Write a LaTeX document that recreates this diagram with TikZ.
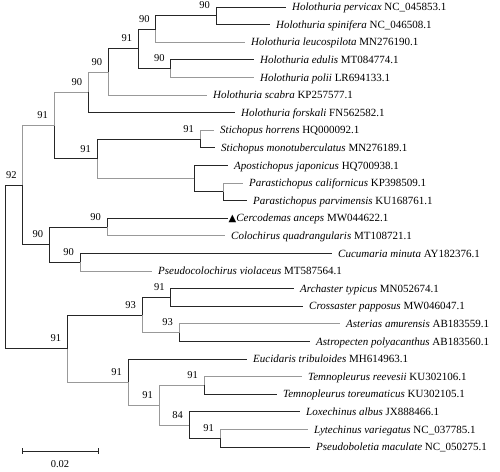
\documentclass[tikz,border=0pt]{standalone}
\usepackage{fontspec}
\setmainfont{Liberation Serif}
\newfontfamily\symfont{DejaVu Sans}
\begin{document}
\begin{tikzpicture}[x=1pt,y=-1pt,
  br/.style={line width=0.8pt, draw=black!85},
  gb/.style={line width=0.8pt, draw=black!40},
  leaf/.style={anchor=west, inner xsep=0pt, inner ysep=0pt, xshift=6pt, text height=7.3pt, text depth=0pt, font=\fontsize{11}{12}\selectfont},
  bs/.style={anchor=south east, inner sep=0pt, font=\fontsize{10.5}{12}\selectfont}]
\useasboundingbox (0,0) rectangle (500,471);
% leaf tips
\coordinate (t1) at (286,7.0);
\coordinate (t2) at (270,24.6);
\coordinate (t3) at (245,42.2);
\coordinate (t4) at (254,59.8);
\coordinate (t5) at (254,77.4);
\coordinate (t6) at (207,95.0);
\coordinate (t7) at (235,112.6);
\coordinate (t8) at (214,130.2);
\coordinate (t9) at (215,147.8);
\coordinate (t10) at (228,165.4);
\coordinate (t11) at (243,183.0);
\coordinate (t12) at (247,200.6);
\coordinate (t13) at (228,218.2);
\coordinate (t14) at (225,235.8);
\coordinate (t15) at (332,253.4);
\coordinate (t16) at (152,271.0);
\coordinate (t17) at (294,288.6);
\coordinate (t18) at (303,306.2);
\coordinate (t19) at (340,323.8);
\coordinate (t20) at (310,341.4);
\coordinate (t21) at (247,359.0);
\coordinate (t22) at (302,376.6);
\coordinate (t23) at (277,394.2);
\coordinate (t24) at (300,411.8);
\coordinate (t25) at (308,429.4);
\coordinate (t26) at (310,447.0);
% internal nodes
\coordinate (A) at (216,15.8);
\coordinate (B) at (155.7,29.0);
\coordinate (C) at (170.7,68.6);
\coordinate (D) at (138.3,48.8);
\coordinate (E) at (108.3,71.9);
\coordinate (F) at (88.3,92.25);
\coordinate (G) at (200,139.0);
\coordinate (H) at (223,191.8);
\coordinate (I) at (194,178.6);
\coordinate (J) at (97,158.8);
\coordinate (K) at (54,125.5);
\coordinate (L) at (107,227.0);
\coordinate (M) at (80,262.2);
\coordinate (N) at (49.3,244.6);
\coordinate (O) at (22.7,185.0);
\coordinate (P) at (170.7,297.4);
\coordinate (Q) at (179,332.6);
\coordinate (R) at (142,315.0);
\coordinate (S) at (204,385.4);
\coordinate (T) at (220,438.2);
\coordinate (U) at (189,425.0);
\coordinate (V) at (159,405.2);
\coordinate (W) at (128,382.1);
\coordinate (X) at (67.3,348.5);
\coordinate (Root) at (5,266.8);
% branches
\draw[br] (A) |- (t1);
\draw[br] (A) |- (t2);
\draw[br] (B) |- (A);
\draw[gb] (B) |- (t3);
\draw[br] (C) |- (t4);
\draw[gb] (C) |- (t5);
\draw[br] (D) |- (B);
\draw[br] (D) |- (C);
\draw[br] (E) |- (D);
\draw[gb] (E) |- (t6);
\draw[gb] (F) |- (E);
\draw[br] (F) |- (t7);
\draw[gb] (G) |- (t8);
\draw[br] (G) |- (t9);
\draw[gb] (H) |- (t11);
\draw[br] (H) |- (t12);
\draw[br] (I) |- (t10);
\draw[br] (I) |- (H);
\draw[br] (J) |- (G);
\draw[gb] (J) |- (I);
\draw[gb] (K) |- (F);
\draw[br] (K) |- (J);
\draw[br] (L) |- (t13);
\draw[gb] (L) |- (t14);
\draw[br] (M) |- (t15);
\draw[gb] (M) |- (t16);
\draw[br] (N) |- (L);
\draw[br] (N) |- (M);
\draw[gb] (O) |- (K);
\draw[br] (O) |- (N);
\draw[br] (P) |- (t17);
\draw[br] (P) |- (t18);
\draw[gb] (Q) |- (t19);
\draw[br] (Q) |- (t20);
\draw[br] (R) |- (P);
\draw[gb] (R) |- (Q);
\draw[gb] (S) |- (t22);
\draw[br] (S) |- (t23);
\draw[gb] (T) |- (t25);
\draw[br] (T) |- (t26);
\draw[br] (U) |- (t24);
\draw[br] (U) |- (T);
\draw[gb] (V) |- (S);
\draw[gb] (V) |- (U);
\draw[br] (W) |- (t21);
\draw[gb] (W) |- (V);
\draw[br] (X) |- (R);
\draw[gb] (X) |- (W);
\draw[br] (Root) |- (O);
\draw[br] (Root) |- (X);
% bootstrap labels
\foreach \n/\v in {A/90,B/90,C/90,D/91,E/90,F/90,G/91,J/91,K/91,L/90,M/90,N/90,O/92,P/91,Q/93,R/93,S/91,T/91,U/84,V/91,W/91,X/91}
  \node[bs] (b\n) at ([xshift=-6pt,yshift=6.5pt]\n) {\v};
% leaf labels
\node[leaf] (l1) at (t1) {\textit{Holothuria pervicax} NC\_045853.1};
\node[leaf] (l2) at (t2) {\textit{Holothuria spinifera} NC\_046508.1};
\node[leaf] (l3) at (t3) {\textit{Holothuria leucospilota} MN276190.1};
\node[leaf] (l4) at (t4) {\textit{Holothuria edulis} MT084774.1};
\node[leaf] (l5) at (t5) {\textit{Holothuria polii} LR694133.1};
\node[leaf] (l6) at (t6) {\textit{Holothuria scabra} KP257577.1};
\node[leaf] (l7) at (t7) {\textit{Holothuria forskali} FN562582.1};
\node[leaf] (l8) at (t8) {\textit{Stichopus horrens} HQ000092.1};
\node[leaf] (l9) at (t9) {\textit{Stichopus monotuberculatus} MN276189.1};
\node[leaf] (l10) at (t10) {\textit{Apostichopus japonicus} HQ700938.1};
\node[leaf] (l11) at (t11) {\textit{Parastichopus californicus} KP398509.1};
\node[leaf] (l12) at (t12) {\textit{Parastichopus parvimensis} KU168761.1};
\node[leaf,xshift=-5.5pt] (l13) at (t13) {{\symfont\fontsize{10}{10}\selectfont ▲}\textit{Cercodemas anceps} MW044622.1};
\node[leaf] (l14) at (t14) {\textit{Colochirus quadrangularis} MT108721.1};
\node[leaf] (l15) at (t15) {\textit{Cucumaria minuta} AY182376.1};
\node[leaf] (l16) at (t16) {\textit{Pseudocolochirus violaceus} MT587564.1};
\node[leaf] (l17) at (t17) {\textit{Archaster typicus} MN052674.1};
\node[leaf] (l18) at (t18) {\textit{Crossaster papposus} MW046047.1};
\node[leaf] (l19) at (t19) {\textit{Asterias amurensis} AB183559.1};
\node[leaf] (l20) at (t20) {\textit{Astropecten polyacanthus} AB183560.1};
\node[leaf] (l21) at (t21) {\textit{Eucidaris tribuloides} MH614963.1};
\node[leaf] (l22) at (t22) {\textit{Temnopleurus reevesii} KU302106.1};
\node[leaf] (l23) at (t23) {\textit{Temnopleurus toreumaticus} KU302105.1};
\node[leaf] (l24) at (t24) {\textit{Loxechinus albus} JX888466.1};
\node[leaf] (l25) at (t25) {\textit{Lytechinus variegatus} NC\_037785.1};
\node[leaf] (l26) at (t26) {\textit{Pseudoboletia maculate} NC\_050275.1};
% scale bar
\coordinate (sb1) at (22,451);
\coordinate (sb2) at (98,451);
\draw[br] (sb1) -- (sb2);
\draw[br] ([yshift=3pt]sb1) -- ([yshift=-3pt]sb1);
\draw[br] ([yshift=3pt]sb2) -- ([yshift=-3pt]sb2);
\node[font=\fontsize{10.5}{12}\selectfont, inner sep=0pt] (sbl) at (60,464) {0.02};
\end{tikzpicture}
\end{document}
